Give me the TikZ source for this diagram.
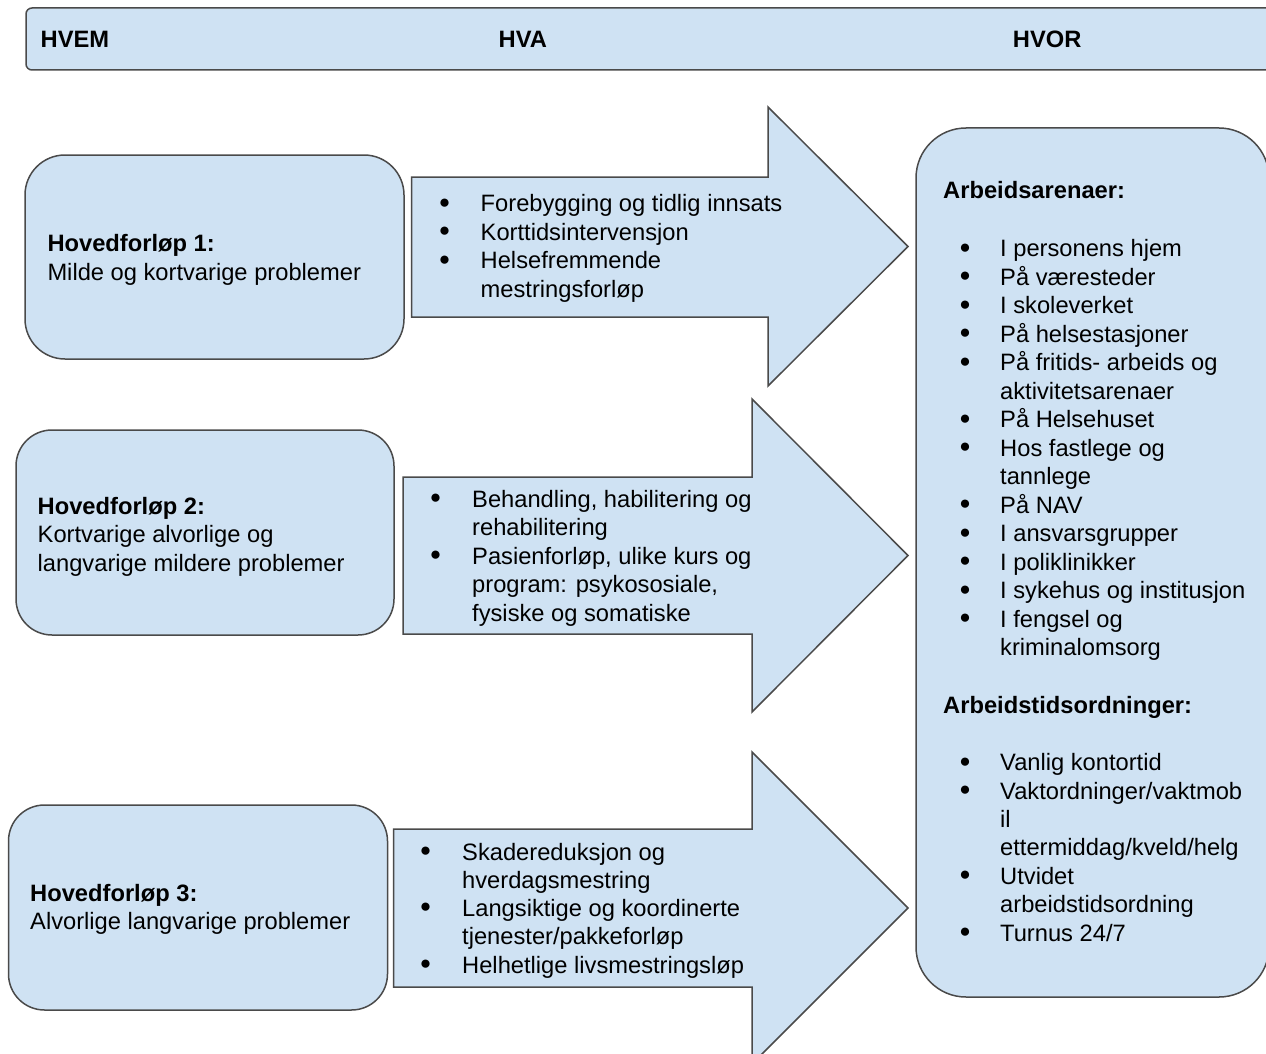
\documentclass[tikz,border=0pt]{standalone}
\usepackage{fontspec}
\setmainfont{Liberation Sans}
\definecolor{fillb}{HTML}{CFE2F3}
\definecolor{edge}{HTML}{4A4A4A}
\begin{document}
\begin{tikzpicture}[x=1pt,y=-1pt,
  shp/.style={draw=edge, fill=fillb, line width=1.5pt},
  txt/.style={anchor=base west, inner sep=0pt, font=\fontsize{23.7}{28.5}\selectfont},
  bld/.style={anchor=base west, inner sep=0pt, font=\fontsize{23.7}{28.5}\selectfont\bfseries},
  bul/.style={anchor=center, inner sep=0pt, font=\fontsize{19}{19}\selectfont},
  box/.style={shp, rectangle, inner sep=0pt},
]
\useasboundingbox (0,0) rectangle (1266,1054);
\clip (0,0) rectangle (1266,1054);
\fill[white] (0,0) rectangle (1266,1054);

% header bar
\node[box, rounded corners=6pt, minimum width=1274pt, minimum height=62pt] (hdr) at (663,39) {};
\node[bld] (hvem) at (40.5,48) {HVEM};
\node[bld] (hva) at (498.5,48) {HVA};
\node[bld] (hvor) at (1012.7,48) {HVOR};

% left boxes
\node[box, rounded corners=40pt, minimum width=379pt, minimum height=204pt] (b1) at (214.5,257) {};
\node[box, rounded corners=36pt, minimum width=378pt, minimum height=205pt] (b2) at (205,532.5) {};
\node[box, rounded corners=36pt, minimum width=379pt, minimum height=205pt] (b3) at (198,907.5) {};

% right box
\node[box, rounded corners=50pt, minimum width=353pt, minimum height=869pt] (rb) at (1092.5,562.5) {};

% arrows
\draw[shp, line join=miter] (411.5,177) -- (768,177) -- (768,107) -- (908,246.5) -- (768,386) -- (768,317) -- (411.5,317) -- cycle;
\draw[shp, line join=miter] (403,477) -- (752,477) -- (752,399) -- (908,555.5) -- (752,712) -- (752,634) -- (403,634) -- cycle;
\draw[shp, line join=miter] (393.5,829) -- (752,829) -- (752,752) -- (908,908) -- (752,1064) -- (752,987) -- (393.5,987) -- cycle;

% box texts
\node[bld] (b1h) at (47.3,251.5) {Hovedforløp 1:};
\node[txt] (b1t) at (47.3,280) {Milde og kortvarige problemer};
\node[bld] (b2h) at (37.5,514) {Hovedforløp 2:};
\node[txt] (b2t) at (37.5,542.5) {Kortvarige alvorlige og};
\node[txt] (b2u) at (37.5,571) {langvarige mildere problemer};
\node[bld] (b3h) at (30,901) {Hovedforløp 3:};
\node[txt] (b3t) at (30,929.5) {Alvorlige langvarige problemer};

% arrow 1 list
\foreach \t [count=\i from 0] in {{Forebygging og tidlig innsats},{Korttidsintervensjon},{Helsefremmende},{mestringsforløp}}
  \node[txt] (a1l\i) at (480.5,{211.7+\i*28.6}) {\t};
\foreach \i in {0,1,2}
  \node[bul] (a1b\i) at (444.5,{211.7+\i*28.6-8.4}) {●};

% arrow 2 list
\foreach \t [count=\i from 0] in {{Behandling, habilitering og},{rehabilitering},{Pasienforløp, ulike kurs og},{program: psykososiale,},{fysiske og somatiske}}
  \node[txt] (a2l\i) at (472,{507+\i*28.5}) {\t};
\foreach \i in {0,2}
  \node[bul] (a2b\i) at (435.5,{507+\i*28.5-8.4}) {●};

% arrow 3 list
\foreach \t [count=\i from 0] in {{Skadereduksjon og},{hverdagsmestring},{Langsiktige og koordinerte},{tjenester/pakkeforløp},{Helhetlige livsmestringsløp}}
  \node[txt] (a3l\i) at (462,{860+\i*28.3}) {\t};
\foreach \i in {0,2,4}
  \node[bul] (a3b\i) at (425.5,{860+\i*28.3-8.4}) {●};

% right box
\node[bld] (rh1) at (943,198.5) {Arbeidsarenaer:};
\foreach \t [count=\i from 0] in {{I personens hjem},{På væresteder},{I skoleverket},{På helsestasjoner},{På fritids- arbeids og},{aktivitetsarenaer},{På Helsehuset},{Hos fastlege og},{tannlege},{På NAV},{I ansvarsgrupper},{I poliklinikker},{I sykehus og institusjon},{I fengsel og},{kriminalomsorg}}
  \node[txt] (r1l\i) at (1000,{256.7+\i*28.5}) {\t};
\foreach \i in {0,1,2,3,4,6,7,9,10,11,12,13}
  \node[bul] (r1b\i) at (965,{256.7+\i*28.5-8.4}) {●};

\node[bld] (rh2) at (943,713.5) {Arbeidstidsordninger:};
\foreach \t [count=\i from 0] in {{Vanlig kontortid},{Vaktordninger/vaktmob},{il},{ettermiddag/kveld/helg},{Utvidet},{arbeidstidsordning},{Turnus 24/7}}
  \node[txt] (r2l\i) at (1000,{770.7+\i*28.4}) {\t};
\foreach \i in {0,1,4,6}
  \node[bul] (r2b\i) at (965,{770.7+\i*28.4-8.4}) {●};
\end{tikzpicture}
\end{document}
